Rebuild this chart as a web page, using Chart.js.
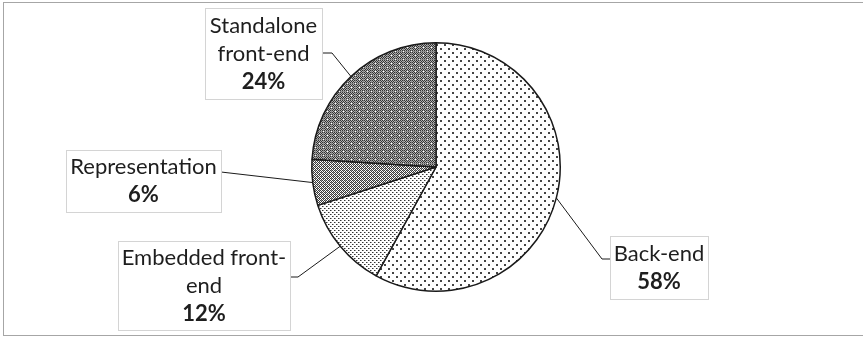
<!DOCTYPE html>
<html>
<head>
<meta charset="utf-8">
<script src="https://cdn.jsdelivr.net/npm/chart.js@4.4.0/dist/chart.umd.min.js"></script>
<style>
  html, body { margin: 0; padding: 0; background: #fff; }
  #wrap { width: 863px; height: 337px; position: relative; }
</style>
</head>
<body>
<div id="wrap"><canvas id="myPie" width="863" height="337"></canvas></div>
<script>
// dados
var categorias = ['Back-end', 'Embedded front-end', 'Representation', 'Standalone front-end'];
var valores = [58, 12, 6, 24];
// texto das caixas (quebra de linha como no original)
var rotulos = [
    ['Back-end'],
    ['Embedded front-', 'end'],
    ['Representation'],
    ['Standalone', 'front-end']
];

// caixas dos rotulos: posicao da caixa e do cotovelo da linha
var caixas = [
    { x: 610, y: 236, w: 98, h: 63, ey: 259, ex: 602, lado: 'esq' },
    { x: 118, y: 241, w: 172, h: 89, ey: 277, ex: 298, lado: 'dir' },
    { x: 66, y: 150, w: 155, h: 62, ey: 172, ex: 221, lado: 'dir' },
    { x: 205, y: 8, w: 117, h: 91, ey: 53, ex: 332, lado: 'dir' }
];

function padrao(tipo) {
    var c = document.createElement('canvas');
    var g = c.getContext('2d');
    if (tipo == 0) {
        // pontos esparsos
        c.width = 8; c.height = 8;
        g.fillStyle = '#fff'; g.fillRect(0, 0, 8, 8);
        g.fillStyle = '#444';
        g.fillRect(0, 0, 2, 2);
        g.fillRect(4, 4, 2, 2);
    } else if (tipo == 1) {
        // pontos densos
        c.width = 4; c.height = 4;
        g.fillStyle = '#fff'; g.fillRect(0, 0, 4, 4);
        g.fillStyle = '#333';
        g.fillRect(0, 0, 1, 1);
        g.fillRect(2, 2, 1, 1);
        g.fillStyle = '#999';
        g.fillRect(1, 0, 1, 1);
        g.fillRect(3, 2, 1, 1);
    } else if (tipo == 2) {
        // xadrez diagonal
        c.width = 4; c.height = 4;
        g.fillStyle = '#fff'; g.fillRect(0, 0, 4, 4);
        g.fillStyle = '#3a3a3a';
        g.fillRect(0, 0, 1, 1); g.fillRect(2, 0, 1, 1);
        g.fillRect(1, 1, 1, 1); g.fillRect(3, 1, 1, 1);
        g.fillRect(0, 2, 1, 1); g.fillRect(2, 2, 1, 1);
        g.fillRect(1, 3, 1, 1); g.fillRect(3, 3, 1, 1);
        g.fillStyle = '#999';
        g.fillRect(1, 0, 1, 1); g.fillRect(3, 2, 1, 1);
    } else {
        // cinza com pontos brancos
        c.width = 8; c.height = 8;
        for (var i = 0; i < 8; i++) {
            for (var j = 0; j < 8; j++) {
                g.fillStyle = (i + j) % 2 == 0 ? '#333' : '#b0b0b0';
                g.fillRect(i, j, 1, 1);
            }
        }
        g.fillStyle = '#888';
        g.fillRect(3, 0, 1, 8);
        g.fillRect(0, 3, 8, 1);
        g.fillStyle = '#fff';
        g.fillRect(3, 3, 1, 1);
        g.fillRect(7, 7, 1, 1);
    }
    return g.createPattern(c, 'repeat');
}

var moldura = {
    id: 'moldura',
    beforeDraw: function (chart) {
        var ctx = chart.ctx;
        ctx.save();
        ctx.strokeStyle = '#a6a6a6';
        ctx.lineWidth = 1;
        ctx.strokeRect(3.5, 2.5, 870, 333);
        ctx.restore();
    }
};

var etiquetas = {
    id: 'etiquetas',
    afterDatasetsDraw: function (chart) {
        var ctx = chart.ctx;
        var meta = chart.getDatasetMeta(0);
        var total = valores.reduce(function (a, b) { return a + b; }, 0);
        ctx.save();
        meta.data.forEach(function (arc, i) {
            var p = arc.getProps(['x', 'y', 'startAngle', 'endAngle', 'outerRadius'], true);
            var meio = (p.startAngle + p.endAngle) / 2;
            var ax = p.x + Math.cos(meio) * p.outerRadius;
            var ay = p.y + Math.sin(meio) * p.outerRadius;
            var b = caixas[i];
            var bordaX = b.lado == 'esq' ? b.x : b.x + b.w;

            // linha guia
            ctx.strokeStyle = '#1a1a1a';
            ctx.lineWidth = 1;
            ctx.beginPath();
            ctx.moveTo(ax, ay);
            ctx.lineTo(b.ex, b.ey);
            ctx.lineTo(bordaX, b.ey);
            ctx.stroke();

            // caixa
            ctx.fillStyle = '#fff';
            ctx.fillRect(b.x, b.y, b.w, b.h);
            ctx.strokeStyle = '#d4d4d4';
            ctx.strokeRect(b.x + 0.5, b.y + 0.5, b.w, b.h);

            // texto
            var linhas = rotulos[i];
            var pct = Math.round(valores[i] / total * 100) + '%';
            var n = linhas.length + 1;
            var alt = 28;
            var y0 = b.y + b.h / 2 - (n - 1) * alt / 2;
            var cx = b.x + b.w / 2;
            ctx.fillStyle = '#1e1e1e';
            ctx.textAlign = 'center';
            ctx.textBaseline = 'middle';
            ctx.font = '22px Lato';
            linhas.forEach(function (t, k) {
                ctx.fillText(t, cx, y0 + k * alt);
            });
            ctx.font = 'bold 22px Lato';
            ctx.fillText(pct, cx, y0 + linhas.length * alt);
        });
        ctx.restore();
    }
};

var ctx = document.getElementById('myPie').getContext('2d');
var myPieChart = new Chart(ctx, {
    type: 'pie',
    data: {
        labels: categorias,
        datasets: [{
            data: valores,
            backgroundColor: [padrao(0), padrao(1), padrao(2), padrao(3)],
            borderColor: '#1a1a1a',
            borderWidth: 1.5,
            hoverOffset: 0
        }]
    },
    options: {
        responsive: false,
        animation: false,
        layout: {
            padding: { left: 311, right: 302, top: 42, bottom: 45 }
        },
        plugins: {
            legend: { display: false },
            tooltip: { enabled: false }
        }
    },
    plugins: [moldura, etiquetas]
});
</script>
</body>
</html>
